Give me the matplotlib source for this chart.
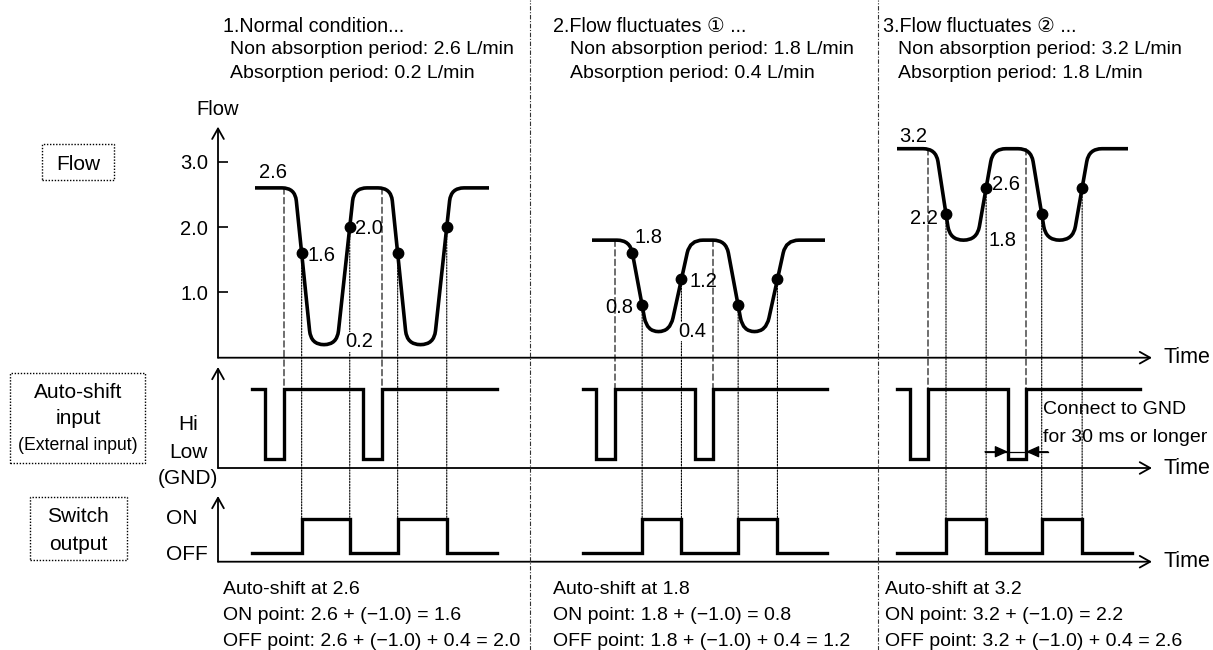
import numpy as np
import matplotlib
matplotlib.use("Agg")
import matplotlib.pyplot as plt
from matplotlib.path import Path
from matplotlib.patches import PathPatch, Rectangle, FancyArrowPatch, ConnectionPatch
from matplotlib.lines import Line2D
from matplotlib.transforms import blended_transform_factory

plt.rcParams["font.family"] = ["Liberation Sans", "DejaVu Sans", "Noto Sans CJK JP"]

# ---------------- data ----------------
scenario_titles = ["1.Normal condition...", "2.Flow fluctuates \u2460 ...", "3.Flow fluctuates \u2461 ..."]
non_absorption_flow = [2.6, 1.8, 3.2]
absorption_flow = [0.2, 0.4, 1.8]
shift_value = -1.0
hysteresis = 0.4
flow_ticks = [1.0, 2.0, 3.0]
flow_tick_labels = ["1.0", "2.0", "3.0"]
previous_on_point = 1.6          # old ON point, marked on scenario 2's first fall

# time of the knots of each flow curve (levels follow flow_level_pattern)
flow_times_1 = [3.7, 7.7, 9.3, 11.9, 13.6, 17.3, 18.9, 21.6, 23.3, 27.1]
flow_times_2 = [37.4, 41.2, 42.9, 45.2, 47.2, 50.8, 52.5, 54.8, 56.8, 60.7]
flow_times_3 = [67.9, 71.8, 73.2, 75.9, 77.5, 81.3, 82.8, 85.5, 87.1, 91.0]
flow_level_pattern = ["hi", "hi", "lo", "lo", "hi", "hi", "lo", "lo", "hi", "hi"]

# auto-shift input edges (steps-post levels)
autoshift_times_1 = [3.4, 4.7, 6.6, 14.5, 16.4, 27.9]
autoshift_times_2 = [36.5, 37.8, 39.7, 47.7, 49.5, 60.9]
autoshift_times_3 = [67.9, 69.2, 71.0, 79.0, 80.8, 92.2]
autoshift_levels = [1, 0, 1, 0, 1, 1]

switch_start = [3.4, 36.5, 67.9]
switch_end = [27.9, 60.9, 91.4]

scenario_boundaries = [31.2, 66.0]

flow_times = [flow_times_1, flow_times_2, flow_times_3]
autoshift_times = [autoshift_times_1, autoshift_times_2, autoshift_times_3]
on_points = [round(n + shift_value, 1) for n in non_absorption_flow]
off_points = [round(n + shift_value + hysteresis, 1) for n in non_absorption_flow]

# ---------------- figure ----------------
W, H = 1213, 650
fig = plt.figure(figsize=(W / 100, H / 100), dpi=100)


def px_rect(x0, y_top, x1, y_bot):
    return [x0 / W, 1 - y_bot / H, (x1 - x0) / W, (y_bot - y_top) / H]


def ftext(x, y, s, size=14.0, ha="left", **kw):
    fig.text(x / W, 1 - (y + 2) / H, s, ha=ha, va="center", fontsize=size, **kw)


ax_flow = fig.add_axes(px_rect(218, 126.7, 1152, 357.7))
ax_auto = fig.add_axes(px_rect(218, 367, 1152, 468))
ax_sw = fig.add_axes(px_rect(218, 496, 1152, 561.7))
ax_flow.set_ylim(0, 3.537)
ax_auto.set_ylim(-0.1286, 1.314)
ax_sw.set_ylim(-0.267, 1.682)
for ax in (ax_flow, ax_auto, ax_sw):
    ax.set_xlim(0, 93.4)
    ax.patch.set_alpha(0)
    for sp in ax.spines.values():
        sp.set_visible(False)
    ax.set_xticks([])
    ax.set_yticks([])
    for a, b in (((0, 0), (1, 0)), ((0, 0), (0, 1))):
        ax.add_patch(FancyArrowPatch(a, b, transform=ax.transAxes,
                                     arrowstyle="->,head_length=0.75,head_width=0.42",
                                     mutation_scale=10, lw=1.3, color="k",
                                     clip_on=False, shrinkA=0, shrinkB=0))
    ax.annotate("Time", xy=(1, 0), xycoords="axes fraction", xytext=(11, 0),
                textcoords="offset pixels", ha="left", va="center", fontsize=15.5)

ax_flow.set_yticks(flow_ticks, flow_tick_labels)
ax_flow.tick_params(axis="y", direction="in", length=7, width=1.2, labelsize=14.5, pad=7)
ax_flow.annotate("Flow", xy=(0, 1), xycoords="axes fraction", xytext=(0, 17),
                 textcoords="offset pixels", ha="center", va="center", fontsize=14.5)


def rounded_path(ax, ts, vs, r_top=13.0, r_bot=14.0):
    pts = ax.transData.transform(np.column_stack([ts, vs]))
    verts = [pts[0]]
    codes = [Path.MOVETO]
    for i in range(1, len(pts) - 1):
        P, A, B = pts[i], pts[i - 1], pts[i + 1]
        r = r_bot if (vs[i] < vs[i - 1] or vs[i] < vs[i + 1]) else r_top
        la, lb = np.hypot(*(A - P)), np.hypot(*(B - P))
        p1 = P + (A - P) / la * min(r, la / 2)
        p2 = P + (B - P) / lb * min(r, lb / 2)
        verts += [p1, P, p2]
        codes += [Path.LINETO, Path.CURVE3, Path.CURVE3]
    verts.append(pts[-1])
    codes.append(Path.LINETO)
    return Path(ax.transData.inverted().transform(np.array(verts)), codes)


def crossing(ts, vs, i, level):
    return ts[i] + (vs[i] - level) / (vs[i] - vs[i + 1]) * (ts[i + 1] - ts[i])


dotted = (0, (1.3, 1.3))
dashed = (0, (5.7, 2.9))

# label offsets (pixels) per scenario
level_lab = [(18, 15, "center"), (18, 3, "center"), (16, 12, "center")]
low_lab = [(8, 3), (8, 0), (12, 0)]
on_lab = [(6, -2, "left"), (-9, -2, "right"), (-8, -4, "right")]
off_lab = [(5, -1, "left"), (8, -2, "left"), (6, 3, "left")]

for k in range(3):
    ts = flow_times[k]
    hi, lo = non_absorption_flow[k], absorption_flow[k]
    vs = [hi if p == "hi" else lo for p in flow_level_pattern]
    ax_flow.add_patch(PathPatch(rounded_path(ax_flow, ts, vs), fill=False, lw=2.6,
                                color="k", capstyle="butt", zorder=4))
    on_t = [crossing(ts, vs, 1, on_points[k]), crossing(ts, vs, 5, on_points[k])]
    off_t = [crossing(ts, vs, 3, off_points[k]), crossing(ts, vs, 7, off_points[k])]
    dots_t = on_t + off_t
    dots_v = [on_points[k]] * 2 + [off_points[k]] * 2
    ax_flow.plot(dots_t, dots_v, "o", color="k", ms=7.5, zorder=5)
    if k == 1:
        ax_flow.plot([crossing(ts, vs, 1, previous_on_point)], [previous_on_point],
                     "o", color="k", ms=7.5, zorder=5)

    # labels
    dx, dy, ha = level_lab[k]
    ax_flow.annotate(f"{hi:.1f}", xy=(ts[0] if k != 1 else ts[1], hi), xytext=(dx, dy),
                     textcoords="offset pixels", ha=ha, va="center", fontsize=14.5, zorder=6)
    dx, dy = low_lab[k]
    ax_flow.annotate(f"{lo:.1f}", xy=(ts[3], lo), xytext=(dx, dy), textcoords="offset pixels",
                     ha="left", va="center", fontsize=14.5, zorder=6,
                     bbox=dict(fc="white", ec="none", pad=0.3))
    dx, dy, ha = on_lab[k]
    ax_flow.annotate(f"{on_points[k]:.1f}", xy=(on_t[0], on_points[k]), xytext=(dx, dy),
                     textcoords="offset pixels", ha=ha, va="center", fontsize=14.5, zorder=6)
    dx, dy, ha = off_lab[k]
    ax_flow.annotate(f"{off_points[k]:.1f}", xy=(off_t[0], off_points[k]), xytext=(dx, dy),
                     textcoords="offset pixels", ha=ha, va="center", fontsize=14.5, zorder=6)

    # auto-shift input
    at = autoshift_times[k]
    ax_auto.plot(at, autoshift_levels, drawstyle="steps-post", color="k", lw=2.4,
                 solid_joinstyle="miter")
    # switch output
    st = [switch_start[k], on_t[0], off_t[0], on_t[1], off_t[1], switch_end[k]]
    ax_sw.plot(st, [0, 1, 0, 1, 0, 0], drawstyle="steps-post", color="k", lw=2.4,
               solid_joinstyle="miter")

    # connectors
    for t in (at[2], at[4]):
        cp = ConnectionPatch(xyA=(t, hi), coordsA=ax_flow.transData,
                             xyB=(t, 1), coordsB=ax_auto.transData,
                             lw=0.8, ls=dashed, color="k", zorder=1)
        ax_flow.add_artist(cp)
        cp.set_clip_on(False)
    for t, v in zip(dots_t, dots_v):
        cp = ConnectionPatch(xyA=(t, v), coordsA=ax_flow.transData,
                             xyB=(t, 1), coordsB=ax_sw.transData,
                             lw=0.8, ls=dotted, color="k", zorder=1)
        ax_flow.add_artist(cp)
        cp.set_clip_on(False)

# dimension for the GND time in scenario 3
y_dim = 0.104
at3 = autoshift_times_3
ax_auto.plot([at3[3] - 2.3, at3[4] + 2.2], [y_dim, y_dim], color="k", lw=0.9)
for a, b in (((at3[3] - 2.3, y_dim), (at3[3], y_dim)), ((at3[4] + 2.2, y_dim), (at3[4], y_dim))):
    ax_auto.add_patch(FancyArrowPatch(a, b, arrowstyle="-|>,head_length=0.8,head_width=0.36",
                                      mutation_scale=10, lw=0.9, color="k",
                                      shrinkA=0, shrinkB=0, clip_on=False))
ftext(1043, 408, "Connect to GND", size=14)
ftext(1043, 435, "for 30 ms or longer", size=14)

# scenario separators
trans = blended_transform_factory(ax_flow.transData, fig.transFigure)
for t in scenario_boundaries:
    fig.add_artist(Line2D([t, t], [0, 1], transform=trans, color="#333333", lw=0.8,
                          ls=(0, (4, 1.5, 1, 1.5))))

# left labels and boxes
def dotted_box(x0, y0, x1, y1):
    fig.add_artist(Rectangle((x0 / W, 1 - y1 / H), (x1 - x0) / W, (y1 - y0) / H,
                             transform=fig.transFigure, fill=False, lw=1.0,
                             ls=(0, (1, 1.2)), ec="k"))

dotted_box(42, 144, 114, 180)
ftext(78, 162, "Flow", size=15, ha="center")
dotted_box(10, 373, 145, 463)
ftext(78, 390, "Auto-shift", size=15, ha="center")
ftext(78, 417, "input", size=15, ha="center")
ftext(78, 443, "(External input)", size=12.7, ha="center")
dotted_box(30, 497, 127, 560)
ftext(78, 515, "Switch", size=15, ha="center")
ftext(78, 542, "output", size=15, ha="center")

ftext(188, 423, "Hi", size=15, ha="center")
ftext(188, 450, "Low", size=15, ha="center")
ftext(188, 477, "(GND)", size=15, ha="center")
ftext(166, 517, "ON", size=15)
ftext(166, 553, "OFF", size=15)

# top and bottom text blocks
title_x = [223, 553, 883]
indent_x = [230, 570, 898]
bottom_x = [223, 553, 885]
for k in range(3):
    n, a = non_absorption_flow[k], absorption_flow[k]
    ftext(title_x[k], 25, scenario_titles[k], size=14.2)
    ftext(indent_x[k], 48, f"Non absorption period: {n:.1f} L/min", size=14.0)
    ftext(indent_x[k], 72, f"Absorption period: {a:.1f} L/min", size=14.0)
    s = f"(\u2212{abs(shift_value):.1f})"
    ftext(bottom_x[k], 587, f"Auto-shift at {n:.1f}", size=14)
    ftext(bottom_x[k], 613, f"ON point: {n:.1f} + {s} = {on_points[k]:.1f}", size=14)
    ftext(bottom_x[k], 640, f"OFF point: {n:.1f} + {s} + {hysteresis:.1f} = {off_points[k]:.1f}",
          size=14)

fig.savefig("out.png", dpi=100)
